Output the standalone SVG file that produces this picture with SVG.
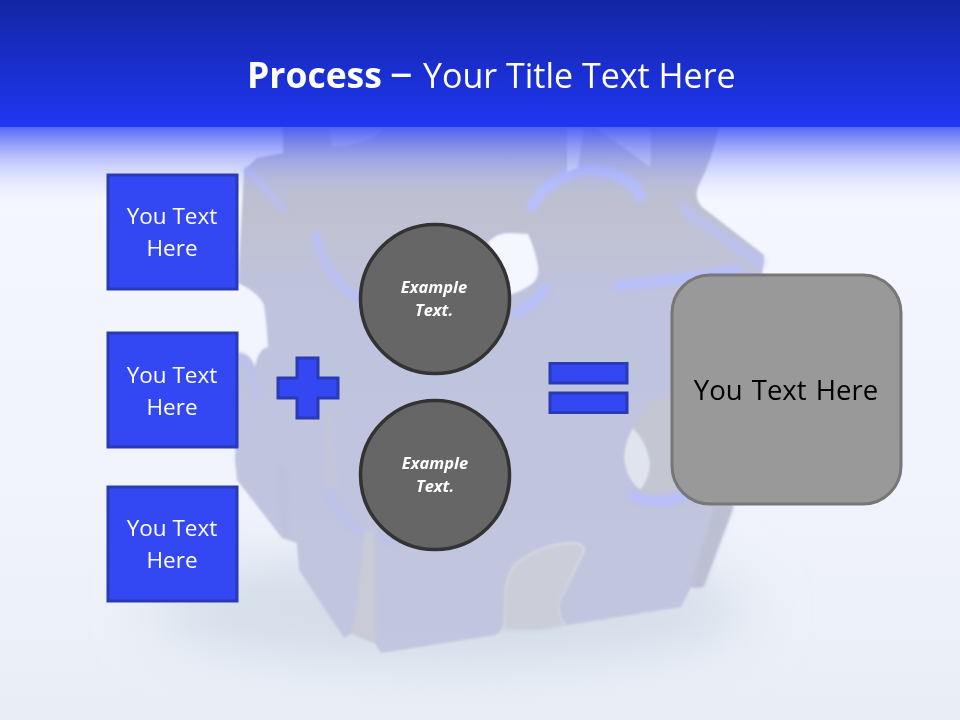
<svg xmlns="http://www.w3.org/2000/svg" width="960" height="720" viewBox="0 0 960 720">
<style>
.box{fill:#3348f2;stroke:#2a39b4;stroke-width:3}
.op{fill:#3348f2;stroke:#2a39b4;stroke-width:3}
.circ{fill:#666;stroke:#333;stroke-width:3.5}
.t{font-family:"Open Sans",sans-serif;text-anchor:middle}
.w{fill:#fff;font-size:22.500px}
.e{fill:#fff;font-size:16.500px;font-weight:700;font-style:italic}
.glow{fill:none;stroke:#b7bffb;stroke-linecap:round}
</style>
<defs>
<linearGradient id="bg" x1="0" y1="0" x2="0" y2="1"><stop offset="0.25" stop-color="#f4f7ff"/><stop offset="0.7" stop-color="#f0f3fb"/><stop offset="1" stop-color="#e9eef6"/></linearGradient>
<linearGradient id="head" x1="0" y1="0" x2="0" y2="1"><stop offset="0" stop-color="#1226a4"/><stop offset="1" stop-color="#2036f2"/></linearGradient>
<linearGradient id="fog" x1="0" y1="0" x2="0" y2="1"><stop offset="0" stop-color="#3a4ef4" stop-opacity="0.85"/><stop offset="0.5" stop-color="#7f8cf6" stop-opacity="0.4"/><stop offset="1" stop-color="#c0c8fa" stop-opacity="0"/></linearGradient>
<linearGradient id="puz" x1="0" y1="0" x2="0" y2="1"><stop offset="0" stop-color="#b9bcd6"/><stop offset="0.17" stop-color="#bfc1d1"/><stop offset="0.33" stop-color="#bfc3de"/><stop offset="1" stop-color="#c2c6df"/></linearGradient>
<filter id="b1" x="-5%" y="-5%" width="110%" height="110%"><feGaussianBlur stdDeviation="0.8"/></filter>
<filter id="b2" x="-30%" y="-30%" width="160%" height="160%"><feGaussianBlur stdDeviation="2"/></filter>
<filter id="b3" x="-40%" y="-120%" width="180%" height="340%"><feGaussianBlur stdDeviation="30"/></filter>
</defs>
<rect id="background" width="960" height="720" fill="url(#bg)"/>
<ellipse id="shadow" cx="450" cy="610" rx="300" ry="55" fill="#d3dce8" filter="url(#b3)"/>
<g id="puzzle">
<path filter="url(#b1)" fill="url(#puz)" d="M283 127L283 153L257 158L244 170L238 283Q258 292 264 305Q267 325 268 347Q258 349 255 367Q250 352 238 353L235 460L237 480L282 538L297 543L299 570L344 638L352 633L375 643L381 653L495 635Q503 632 504 620L505 590Q507 572 516 563Q540 545 564 543Q583 540 585 550Q572 578 559 603Q558 618 567 625L681 607L691 587L703 587L733 507L762 277L764 255L702 207Q694 198 698 187Q712 160 719 127Z"/>
<path filter="url(#b2)" fill="#cbcdd8" d="M516 563Q540 545 564 543Q583 540 585 550Q572 578 559 603Q558 618 567 625L540 630L504 630L505 590Q507 572 516 563Z"/>
<path filter="url(#b2)" fill="#c9ccd6" d="M364 530L375 533L375 643L352 633Q362 580 364 530Z"/>
<path filter="url(#b2)" fill="#b9bcd0" opacity=".3" d="M276 465L287 465L288 537L282 537Z"/>
<path filter="url(#b2)" fill="#c6c8d6" opacity=".5" d="M324 417L333 417Q334 470 340 490L326 487Z"/>
<path filter="url(#b2)" fill="#c4c6d2" d="M628 445Q638 405 675 393L675 495L640 497Z"/>
<path filter="url(#b2)" fill="#bcbfd1" d="M691 587L703 587L733 507L715 507Z"/>
<path filter="url(#b1)" fill="#f5f7ff" d="M488 242Q497 233 510 233L528 234Q536 252 538 267Q539 277 533 283Q522 292 505 296Z"/>
<path filter="url(#b1)" fill="#dfe4ee" d="M633 428Q647 442 650 463Q650 478 640 490Q626 478 624 458Q625 440 633 428Z"/>
<g filter="url(#b2)">
<path class="glow" stroke-width="7" opacity=".75" d="M248 170L283 208"/>
<path class="glow" stroke-width="9" opacity=".75" d="M316 235Q322 272 357 298"/>
<path class="glow" stroke-width="9" d="M516 312Q535 305 546 288"/>
<path class="glow" stroke-width="11" d="M532 207Q540 188 565 176Q592 162 622 178Q640 188 640 197"/>
<path class="glow" stroke-width="10" d="M618 286Q680 280 738 270"/>
<path class="glow" stroke-width="11" opacity=".6" d="M684 206Q690 218 705 224L760 262"/>
<path class="glow" stroke-width="7" opacity=".5" d="M330 495Q340 520 362 532"/>
<path class="glow" stroke-width="6" opacity=".5" d="M380 537L396 542"/>
<path class="glow" stroke-width="10" d="M632 495Q655 507 685 495"/>
<path class="glow" stroke-width="7" opacity=".45" d="M240 356Q250 365 258 395"/>
</g>
<path filter="url(#b1)" fill="#e6e9fd" opacity=".75" d="M567 127L567 172L578 168L584 127Z"/>
<path filter="url(#b1)" fill="#e6e9fd" opacity=".7" d="M595 127L650 167Q652 145 650 127Z"/>
<path filter="url(#b1)" fill="#e6e9fd" opacity=".55" d="M328 127L333 147Q370 145 386 127Z"/>
</g>
<rect id="fog-band" y="127" width="960" height="72" fill="url(#fog)"/>
<g id="header">
<rect width="960" height="127" fill="url(#head)"/>
<text y="88" fill="#fff" font-family="'Open Sans',sans-serif"><tspan x="247" font-size="35.500" font-weight="700">Process</tspan><tspan x="390" font-size="45">–</tspan><tspan x="423" font-size="34">Your Title Text Here</tspan></text>
</g>
<g id="connectors"/>
<g id="box1"><rect class="box" x="108" y="175" width="129" height="114"/><text class="t w" x="172" y="224">You Text</text><text class="t w" x="172" y="256">Here</text></g>
<g id="box2"><rect class="box" x="108" y="333" width="129" height="114"/><text class="t w" x="172" y="383">You Text</text><text class="t w" x="172" y="415">Here</text></g>
<g id="box3"><rect class="box" x="108" y="487" width="129" height="114"/><text class="t w" x="172" y="536">You Text</text><text class="t w" x="172" y="568">Here</text></g>
<g id="plus"><path class="op" d="M297 358H318V378H338V398H318V418H297V398H278V378H297Z"/></g>
<g id="circle1"><circle class="circ" cx="435" cy="299" r="74.500"/><text class="t e" x="434" y="293">Example</text><text class="t e" x="434" y="316">Text.</text></g>
<g id="circle2"><circle class="circ" cx="435" cy="475" r="74.500"/><text class="t e" x="435" y="469">Example</text><text class="t e" x="435" y="492">Text.</text></g>
<g id="equals"><rect class="op" x="550" y="363.500" width="77" height="19.500"/><rect class="op" x="550" y="393" width="77" height="19.500"/></g>
<g id="result"><rect x="672" y="275" width="229" height="229" rx="38" fill="#999" stroke="#777" stroke-width="3"/><text class="t" x="786" y="400" fill="#000" font-size="27.500" word-spacing="2">You Text Here</text></g>
</svg>
